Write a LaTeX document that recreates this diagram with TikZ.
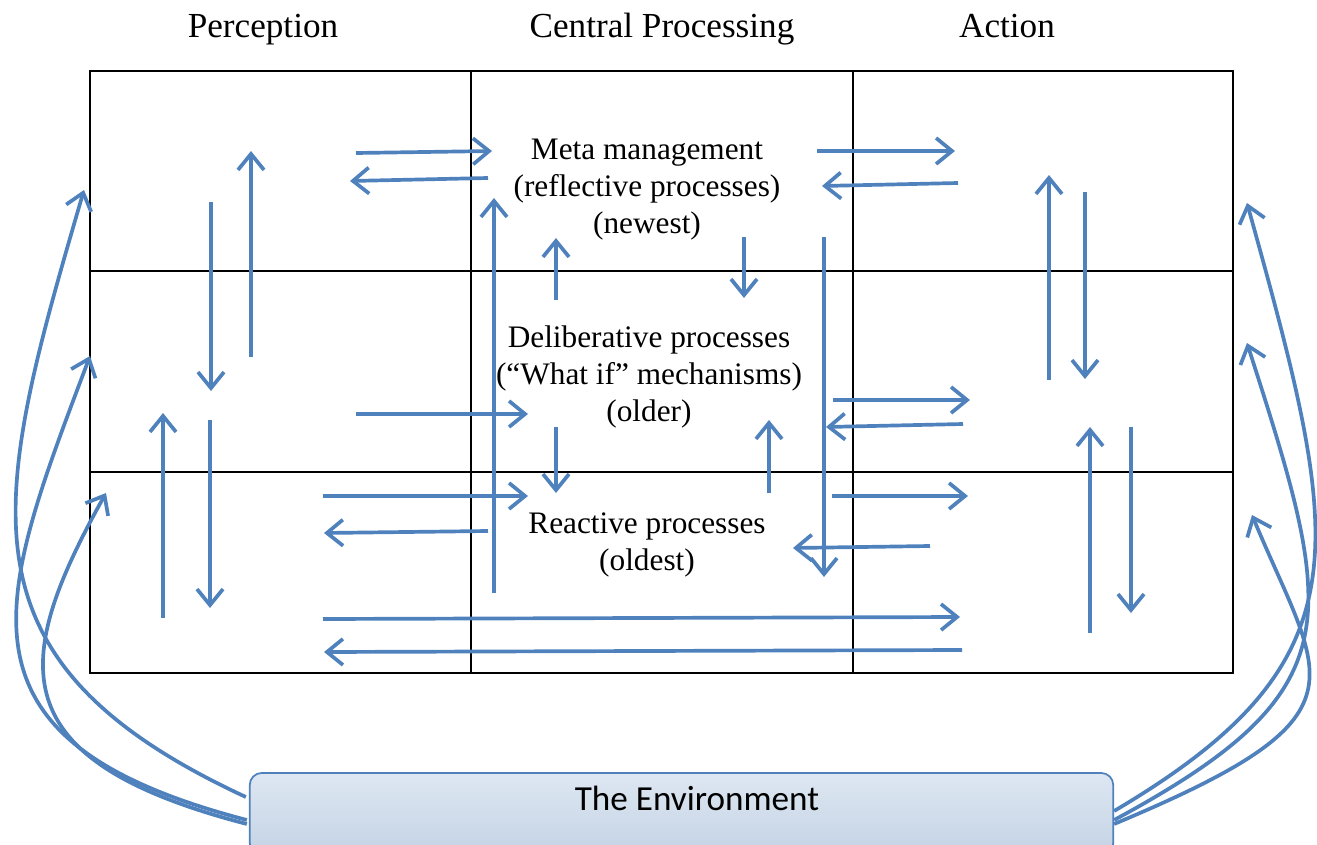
\documentclass[tikz,border=0pt]{standalone}
\usepackage{fontspec}
\setmainfont{Liberation Serif}
\newfontfamily\envfont{Carlito}
\usetikzlibrary{arrows.meta, calc}
\definecolor{flowblue}{RGB}{79,129,189}
\definecolor{envtop}{RGB}{222,231,242}
\definecolor{envbot}{RGB}{196,211,229}
\tikzset{
  flow/.style={draw=flowblue, line width=1.05pt,
    -{Straight Barb[length=1.6mm, width=2.6mm]}},
  cell/.style={draw=black, line width=0.45pt},
  heading/.style={font=\fontsize{10}{12}\selectfont, anchor=base},
  layer/.style={font=\fontsize{8.9}{10.5}\selectfont, align=center},
  envbox/.style={rectangle, rounded corners=0.12cm, draw=flowblue, line width=0.5pt,
    top color=envtop, bottom color=envbot,
    minimum width=8.63cm, minimum height=0.82cm},
  envlabel/.style={font=\envfont\fontsize{10}{12}\selectfont}
}
\begin{document}
\begin{tikzpicture}[x=0.01cm, y=-0.01cm]
\useasboundingbox (0,0) rectangle (1317,845);

%% ── Column headings ────────────────────────────────────
\node[heading] (perc)    at ( 263,37) {Perception};
\node[heading] (central) at ( 662,37) {Central Processing};
\node[heading] (action)  at (1007,37) {Action};

%% ── Grid ───────────────────────────────────────────────
\draw[cell] (90,71) rectangle (1233,673);
\draw[cell] (471,71) -- (471,673);
\draw[cell] (853,71) -- (853,673);
\draw[cell] (90,271) -- (1233,271);
\draw[cell] (90,472) -- (1233,472);

%% ── Layer labels ───────────────────────────────────────
\node[layer] (meta)  at (647,190) {Meta management\\(reflective processes)\\(newest)};
\node[layer] (delib) at (649,377) {Deliberative processes\\(“What if” mechanisms)\\(older)};
\node[layer] (react) at (647,545) {Reactive processes\\(oldest)};

%% ── Environment ────────────────────────────────────────
\node[envbox]   (env)     at (681.5,814) {};
\node[envlabel] (envtext) at (697,798)   {The Environment};

%% ── Perception column ──────────────────────────────────
\draw[flow] (251,357) -- (251,151);
\draw[flow] (211,202) -- (211,391);
\draw[flow] (163,618) -- (163,413);
\draw[flow] (210,420) -- (210,608);

% Perception <-> Central
\draw[flow] (356,153) -- (492,151);
\draw[flow] (488,178) -- (350,181);
\draw[flow] (356,414) -- (528,414);
\draw[flow] (323,496) -- (528,496);
\draw[flow] (488,531) -- (324,533);
\draw[flow] (323,619) -- (960,617);
\draw[flow] (962,650) -- (324,652);

%% ── Central column ─────────────────────────────────────
\draw[flow] (494,593) -- (494,198);
\draw[flow] (556,300) -- (556,238);
\draw[flow] (744,237) -- (744,298);
\draw[flow] (556,427) -- (556,493);
\draw[flow] (769,493) -- (769,420);
\draw[flow] (824,237) -- (824,577);

% Central <-> Action
\draw[flow] (817,151) -- (955,151);
\draw[flow] (958,183) -- (822,186);
\draw[flow] (833,400) -- (970,400);
\draw[flow] (963,424) -- (826,427);
\draw[flow] (832,496) -- (968,496);
\draw[flow] (930,546) -- (793,548);

%% ── Action column ──────────────────────────────────────
\draw[flow] (1049,380) -- (1049,175);
\draw[flow] (1085,192) -- (1085,379);
\draw[flow] (1090,633) -- (1090,427);
\draw[flow] (1131,427) -- (1131,613);

%% ── Environment feeds ──────────────────────────────────
% left side, into Perception
\draw[flow] ($(env.west)+(-3,-17)$) .. controls (-50,660) and (-8,505) .. (84,190);
\draw[flow] ($(env.west)+(-2,6)$)   .. controls (-60,740) and (-2,600) .. (90,356);
\draw[flow] ($(env.west)+(-2,10)$)  .. controls (0,760) and (11,663) .. (106,493);
% right side, into Action
\draw[flow] ($(env.east)+(0,-3)$) .. controls (1370,660) and (1342,545) .. (1247,203);
\draw[flow] ($(env.east)+(0,6)$)  .. controls (1355,690) and (1336,620) .. (1247,343);
\draw[flow] ($(env.east)+(0,10)$) .. controls (1375,715) and (1322,683) .. (1252,515);

\end{tikzpicture}
\end{document}
